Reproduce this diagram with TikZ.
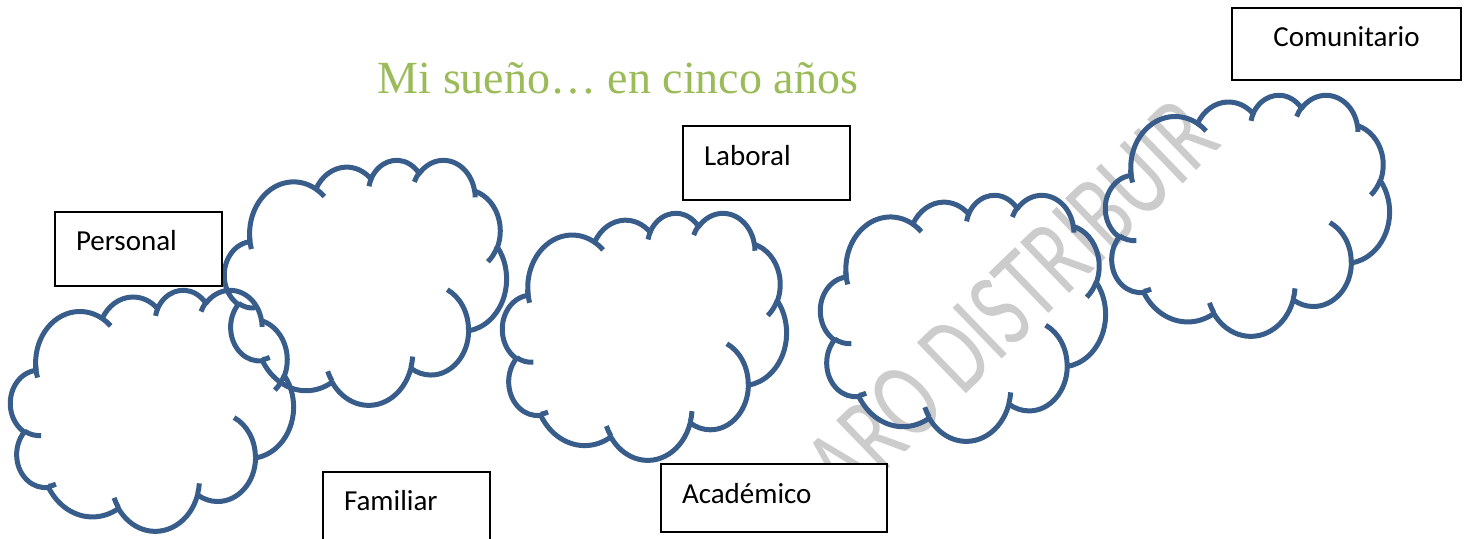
\documentclass[tikz,border=0pt]{standalone}
\usepackage{fontspec}
\setmainfont{Carlito}
\newfontfamily\titulofont{Liberation Serif}
\definecolor{azulnube}{RGB}{56,93,138}
\definecolor{verdetitulo}{RGB}{155,187,89}

% arco de la nube: radios, angulo inicial y barrido (en grados)
\newcommand\arco[4]{arc[x radius=#1, y radius=#2,
	start angle={atan2(#1*sin(#3),#2*cos(#3))},
	delta angle={mod(atan2(#1*sin(#3+#4),#2*cos(#3+#4))-atan2(#1*sin(#3),#2*cos(#3))+720,360)}]}

\newcommand\nube[4]{%
	\pgfmathsetmacro\nubesx{#3/432}%
	\pgfmathsetmacro\nubesy{#4/432}%
	\begin{scope}[shift={(#1,#2)}, xscale=\nubesx, yscale=\nubesy]
		\draw[nubelinea] (39,143.7) \arco{67.53}{91.90}{-190.4875}{123.7805}
			\arco{53.33}{72.67}{-144.1024}{89.9452}
			\arco{43.65}{59.45}{-145.8079}{99.7230}
			\arco{48.57}{65.95}{-130.9861}{117.2417}
			\arco{53.33}{72.73}{-78.7089}{109.0269}
			\arco{67.75}{92.20}{-46.2673}{130.2690}
			\arco{57.85}{78.67}{0.6250}{114.0333}
			\arco{67.52}{92.15}{22.4516}{115.1726}
			\arco{77.20}{105.43}{66.2426}{75.7110}
			\arco{43.60}{59.18}{-274.9421}{146.7356}
			\arco{43.45}{59.45}{-246.8285}{152.5189} -- cycle;
		\draw[nubelinea] (46.93,261.77) \arco{43.45}{59.45}{86.7420}{26.4295}
			(69.28,348.99) \arco{43.60}{59.18}{73.6105}{11.4475}
			(164.78,390.90) \arco{67.52}{92.15}{137.6242}{14.0811}
			(288.27,347.51) \arco{67.52}{92.15}{6.4533}{15.9984}
			(341.29,229.54) \arco{57.85}{78.67}{-70.2924}{70.9174}
			(417.98,153.54) \arco{53.33}{72.73}{30.3180}{27.7515}
			(383.24,54.26) \arco{48.57}{65.95}{-13.7443}{14.8582}
			(290.78,39.52) \arco{48.57}{65.95}{-149.1815}{18.1959}
			(221.41,47.20) \arco{43.65}{59.45}{-163.4943}{17.6906}
			(140.00,51.92) \arco{67.53}{91.90}{-66.7070}{12.3194}
			(41.27,157.89) \arco{67.53}{91.90}{156.4101}{19.4203};
	\end{scope}}

\tikzset{
	nubelinea/.style={draw=azulnube, line width=2.5pt, line join=round},
	cuadro/.style={draw, line width=1pt, fill=white, anchor=north west, inner xsep=10.5pt, inner ysep=0pt,
		text height=19.5pt, text depth=17.5pt, align=left, text width=#1, font=\fontsize{14.5}{17}\selectfont},
	titulo/.style={anchor=base, text=verdetitulo, font=\titulofont\fontsize{23}{27}\selectfont},
	marca/.style={anchor=base, text=black!20, font=\fontsize{55}{66}\selectfont},
}

\begin{document}
\begin{tikzpicture}[x=0.5pt,y=-0.5pt]
	\useasboundingbox (0,0) rectangle (1469,539);

	\node[marca, rotate=44, xscale=0.72] (marca) at (1036,326) {ARO DISTRIBUIR};

	\node[titulo] (titulo) at (618,94) {Mi sueño… en cinco años};

	\nube{10.5}{289.5}{283}{241}
	\nube{224.5}{159.5}{282}{245}
	\nube{502.5}{212.5}{284}{247}
	\nube{820.5}{194.5}{285}{246}
	\nube{1105.5}{94.5}{284}{241}

	\node[cuadro=62.5pt] (personal) at (54,211) {Personal};
	\node[cuadro=62.5pt] (familiar) at (322,471) {Familiar};
	\node[cuadro=62.5pt, text height=20pt, text depth=17pt] (laboral) at (682,125) {Laboral};
	\node[cuadro=92pt, text height=20pt, text depth=14pt] (academico) at (660,463) {Académico};
	\node[cuadro=93.5pt, align=center, text depth=16.5pt] (comunitario) at (1231,7) {Comunitario};
\end{tikzpicture}
\end{document}
